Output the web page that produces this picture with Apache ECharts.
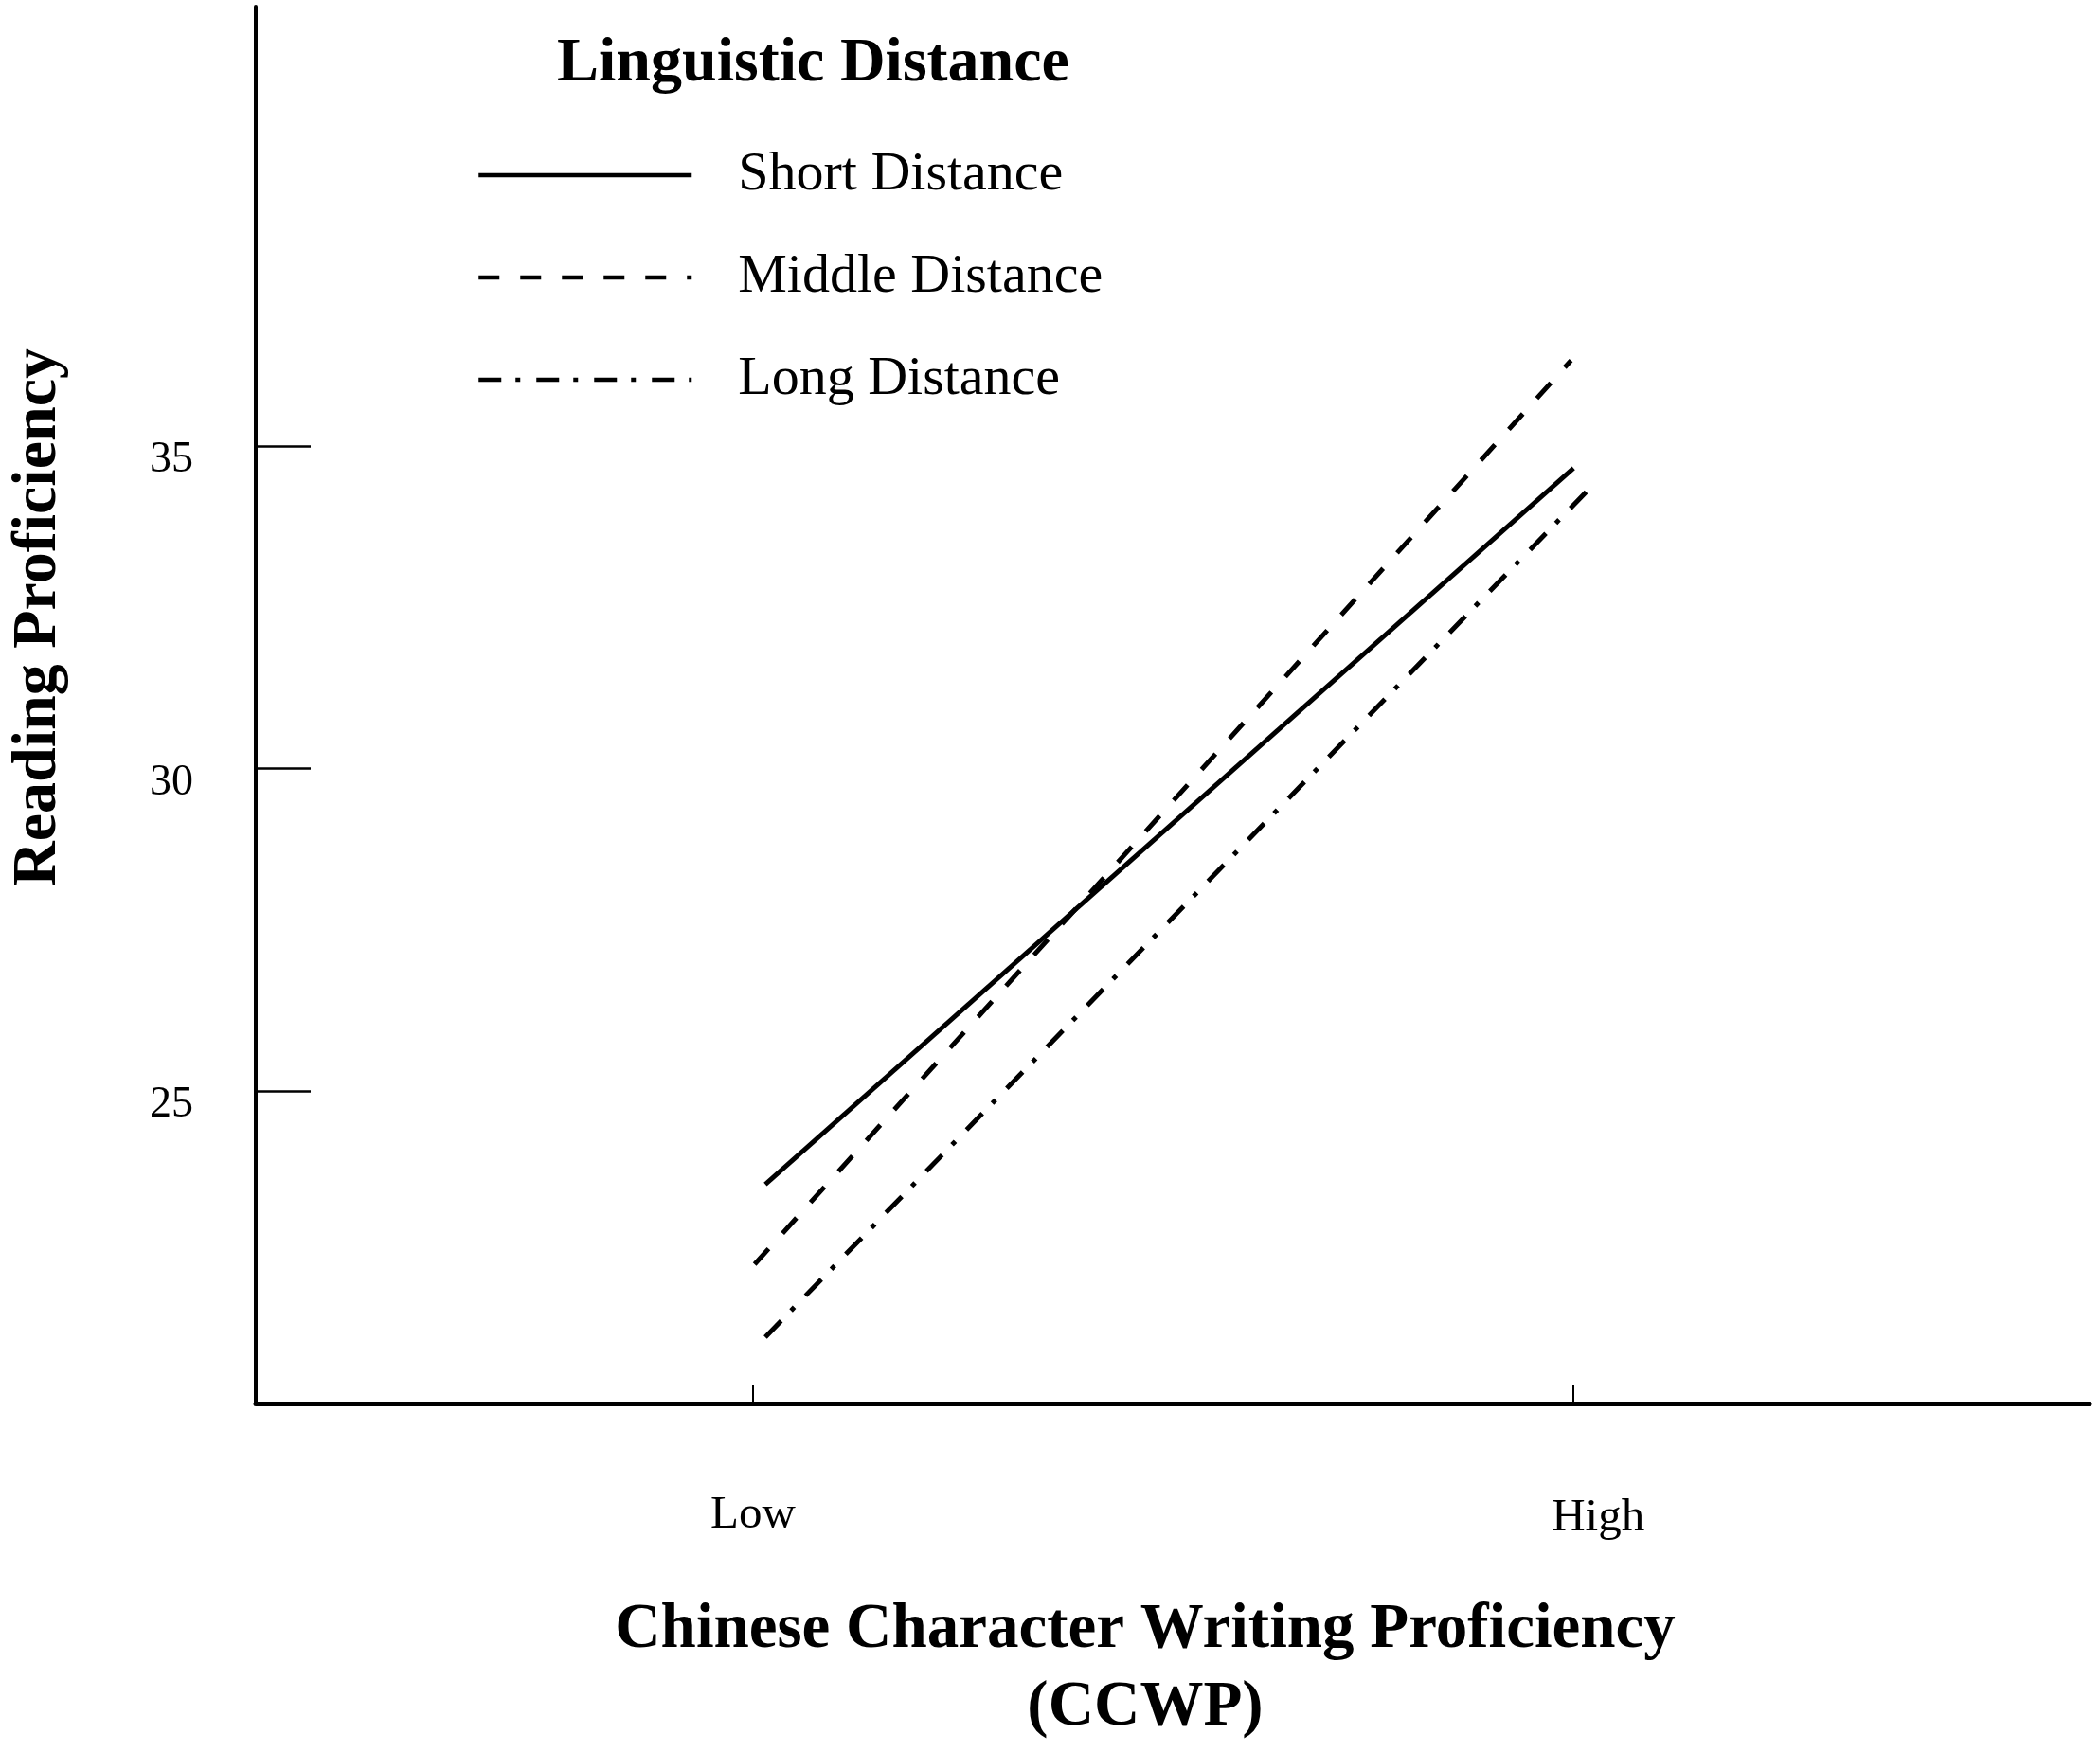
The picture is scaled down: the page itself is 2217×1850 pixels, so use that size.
<!DOCTYPE html>
<html>
<head>
<meta charset="utf-8">
<script src="https://cdn.jsdelivr.net/npm/echarts@6/dist/echarts.min.js"></script>
<style>
html,body{margin:0;padding:0;background:#fff;}
#chart{width:2217px;height:1850px;}
</style>
</head>
<body>
<div id="chart"></div>
<script>
const seriesNames = ['Short Distance', 'Middle Distance', 'Long Distance'];
const shortX = [0.015, 1.0];
const shortY = [23.55, 34.66];
const middleX = [0.002, 0.997];
const middleY = [22.31, 36.33];
const longX = [0.015, 1.026];
const longY = [21.18, 34.43];
const xTickValues = [0, 1];
const xTickLabels = ['Low', 'High'];
const yTickValues = [25, 30, 35];
const legendTitle = 'Linguistic Distance';
const xAxisTitle = 'Chinese Character Writing Proficiency\n(CCWP)';
const yAxisTitle = 'Reading Proficiency';

const FONT = '"Liberation Serif", "Times New Roman", serif';
function pairs(xs, ys) { return xs.map((x, i) => [x, ys[i]]); }

const chart = echarts.init(document.getElementById('chart'), null, {renderer: 'canvas'});
chart.setOption({
  backgroundColor: '#ffffff',
  animation: false,
  color: ['#000', '#000', '#000'],
  title: {
    text: legendTitle,
    left: 583, top: 28,
    textStyle: {fontFamily: FONT, fontWeight: 'bold', fontSize: 66, color: '#000', lineHeight: 70}
  },
  legend: {
    orient: 'vertical',
    left: 498, top: 150,
    itemWidth: 225, itemHeight: 14, itemGap: 48,
    data: seriesNames,
    itemStyle: {opacity: 0},
    lineStyle: {width: 4.5, color: '#000'},
    textStyle: {fontFamily: FONT, fontSize: 58, color: '#000', lineHeight: 60, padding: [0, 0, 0, 44]}
  },
  grid: {left: 263, right: 11, top: 7, bottom: 351},
  xAxis: {
    type: 'value', min: -0.606, max: 1.629,
    splitLine: {show: false},
    axisLine: {show: true, onZero: false, lineStyle: {color: '#000', width: 5}},
    axisTick: {show: true, inside: true, length: 20, lineStyle: {color: '#000', width: 2}, customValues: xTickValues},
    axisLabel: {
      show: true, margin: 94, fontFamily: FONT, fontSize: 49, color: '#000', lineHeight: 49,
      customValues: xTickValues,
      formatter: function (v) {
        const i = xTickValues.indexOf(v);
        const t = i >= 0 ? xTickLabels[i] : '';
        return i === 1 ? '{h|' + t + '}' : t;
      },
      rich: {h: {fontFamily: FONT, fontSize: 49, color: '#000', lineHeight: 49, padding: [6, 0, 0, 52]}}
    },
    name: xAxisTitle, nameLocation: 'middle', nameGap: 199,
    nameTextStyle: {fontFamily: FONT, fontWeight: 'bold', fontSize: 67, color: '#000', lineHeight: 82, padding: [0, 58, 0, 0]}
  },
  yAxis: {
    type: 'value', min: 20.15, max: 41.82,
    splitLine: {show: false},
    axisLine: {show: true, onZero: false, lineStyle: {color: '#000', width: 4}},
    axisTick: {show: true, inside: true, length: 58, lineStyle: {color: '#000', width: 2.5}, customValues: yTickValues},
    axisLabel: {
      show: true, margin: 66, fontFamily: FONT, fontSize: 46, color: '#000',
      customValues: yTickValues, verticalAlign: 'top', lineHeight: 30
    },
    name: yAxisTitle, nameLocation: 'middle', nameGap: 196, nameRotate: 90,
    nameTextStyle: {fontFamily: FONT, fontWeight: 'bold', fontSize: 66, color: '#000', lineHeight: 66, padding: [0, 0, 0, 186]}
  },
  series: [
    {name: seriesNames[0], type: 'line', data: pairs(shortX, shortY), symbol: 'none',
     itemStyle: {color: '#000'},
     lineStyle: {color: '#000', width: 5, type: 'solid'}},
    {name: seriesNames[1], type: 'line', data: pairs(middleX, middleY), symbol: 'none',
     itemStyle: {color: '#000'},
     lineStyle: {color: '#000', width: 5, type: [22, 22]}},
    {name: seriesNames[2], type: 'line', data: pairs(longX, longY), symbol: 'none',
     itemStyle: {color: '#000'},
     lineStyle: {color: '#000', width: 5, type: [24, 15, 5, 17]}}
  ]
});
</script>
</body>
</html>
